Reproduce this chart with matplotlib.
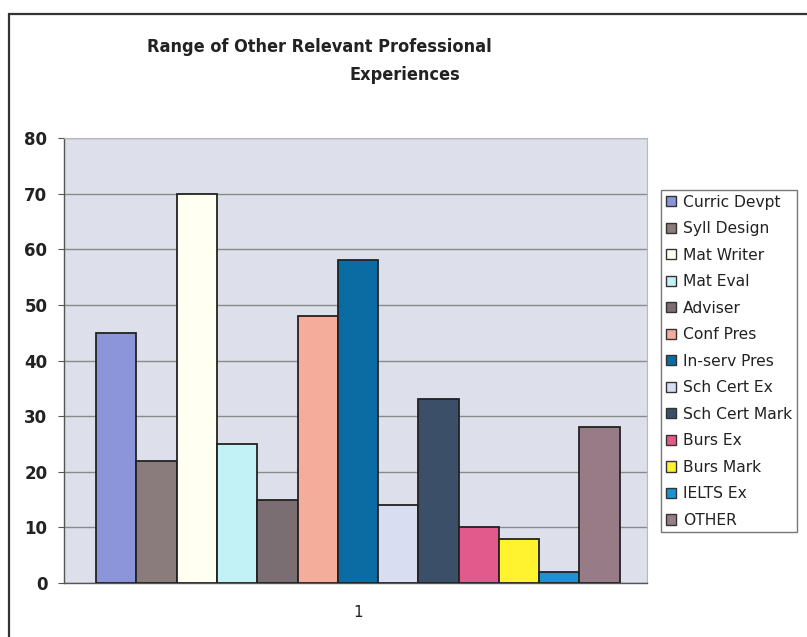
import matplotlib
matplotlib.use("Agg")
import matplotlib.pyplot as plt
from matplotlib.patches import Rectangle, Patch

# data
categories = ["Curric Devpt", "Syll Design", "Mat Writer", "Mat Eval", "Adviser",
              "Conf Pres", "In-serv Pres", "Sch Cert Ex", "Sch Cert Mark",
              "Burs Ex", "Burs Mark", "IELTS Ex", "OTHER"]
values = [45, 22, 70, 25, 15, 48, 58, 14, 33, 10, 8, 2, 28]
colors = ["#8c95d9", "#8a7c7c", "#fffff2", "#c2f1f6", "#7b6e72", "#f5ad9b",
          "#0b6ba3", "#d8ddf1", "#3b5068", "#e2598b", "#fff330", "#1b92d2",
          "#977c88"]
yticks = [0, 10, 20, 30, 40, 50, 60, 70, 80]

fig = plt.figure(figsize=(8.07, 6.37), dpi=100)
fig.patch.set_facecolor("white")

# outer chart frame (runs off the right / bottom edge like the scan)
fig.patches.append(Rectangle((9 / 807, -0.05), 1.2, 1 - 14 / 637 + 0.05,
                             transform=fig.transFigure, fill=False,
                             edgecolor="#333333", linewidth=1.6))

ax = fig.add_axes([64 / 807, 1 - 583 / 637, (647 - 64) / 807, (583 - 138) / 637])
ax.set_facecolor("#dde0ea")

xs = list(range(len(values)))
ax.bar(xs, values, width=1.0, color=colors, edgecolor="#222222",
       linewidth=1.3, zorder=3)

ax.set_xlim(-1.3, len(values) - 1 + 1.18)
ax.set_ylim(0, 80)
ax.set_yticks(yticks)
ax.set_yticklabels([str(v) for v in yticks], fontsize=12, fontweight="bold",
                   color="#222222")
ax.yaxis.grid(True, color="#8a8a8a", linewidth=1.0, zorder=1)
ax.set_axisbelow(True)

ax.set_xticks([(len(values) - 1) / 2])
ax.set_xticklabels(["1"], fontsize=11, color="#222222")
ax.tick_params(axis="x", length=0, pad=16)
ax.tick_params(axis="y", length=4, direction="out", color="#555555", pad=8)

for side in ["top", "right"]:
    ax.spines[side].set_color("#b8b8b8")
    ax.spines[side].set_linewidth(0.8)
for side in ["left", "bottom"]:
    ax.spines[side].set_color("#555555")
    ax.spines[side].set_linewidth(1.0)

# title: narrow bold face in the scan
fig.text(319 / 807, 1 - 47 / 637, "Range of Other Relevant Professional",
         ha="center", va="center", fontsize=13, fontweight="bold",
         fontstretch="condensed", color="#222222")
fig.text(405 / 807, 1 - 75 / 637, "Experiences", ha="center", va="center",
         fontsize=13, fontweight="bold", fontstretch="condensed",
         color="#222222")

handles = [Patch(facecolor=c, edgecolor="#333333", linewidth=1.0) for c in colors]
leg = fig.legend(handles, categories, loc="upper left",
                 bbox_to_anchor=(661 / 807, 1 - 190 / 637),
                 fontsize=11.2, frameon=True, fancybox=False,
                 handlelength=0.65, handleheight=0.65, handletextpad=0.45,
                 labelspacing=0.74, borderpad=0.3, borderaxespad=0)
leg.get_frame().set_edgecolor("#555555")
leg.get_frame().set_linewidth(1.0)
for t in leg.get_texts():
    t.set_color("#222222")

fig.savefig("out.png", dpi=100)
